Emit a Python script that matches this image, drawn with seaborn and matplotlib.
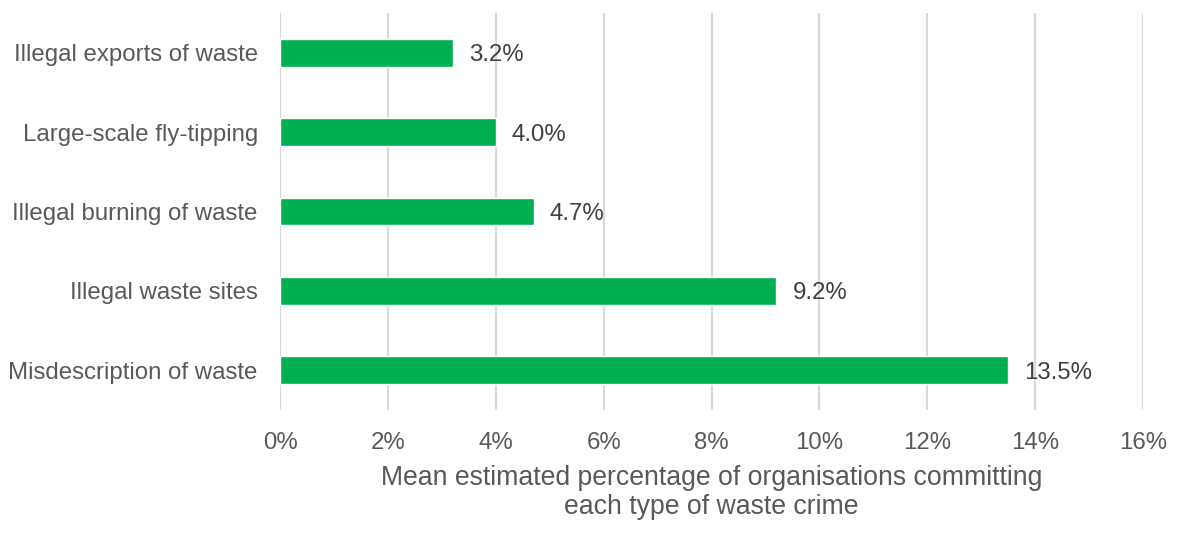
import matplotlib
matplotlib.use("Agg")
import matplotlib.pyplot as plt
import seaborn as sns
import pandas as pd
from matplotlib.ticker import FuncFormatter

# data
crimes = ['Illegal exports of waste', 'Large-scale fly-tipping', 'Illegal burning of waste',
          'Illegal waste sites', 'Misdescription of waste']
values = [3.2, 4.0, 4.7, 9.2, 13.5]
xticks = [0, 2, 4, 6, 8, 10, 12, 14, 16]

df = pd.DataFrame({'crime': crimes, 'pct': values})

sns.set_style('white')
plt.rcParams['font.family'] = ['Liberation Sans', 'DejaVu Sans']
txt = '#595959'

fig = plt.figure(figsize=(11.9, 5.46), dpi=100)
ax = fig.add_axes([280/1190, 1-410/546, (1143-280)/1190, (410-13)/546])

sns.barplot(data=df, x='pct', y='crime', color='#00B050', width=0.35,
            saturation=1, ax=ax, zorder=3)

ax.set_xlim(0, 16)
ax.set_xticks(xticks)
ax.xaxis.set_major_formatter(FuncFormatter(lambda v, p: f'{v:.0f}%'))
ax.grid(axis='x', color='#D9D9D9', linewidth=1.5, zorder=0)
ax.grid(axis='y', visible=False)
for s in ax.spines.values():
    s.set_visible(False)

ax.tick_params(axis='x', labelsize=17.3, labelcolor=txt, length=0, pad=16)
ax.tick_params(axis='y', labelsize=17.3, labelcolor=txt, length=0, pad=16)

for i, v in enumerate(values):
    ax.text(v + 0.3, i, f'{v:.1f}%', va='center_baseline', ha='left', fontsize=17.3, color='#404040')

ax.set_ylabel('')
ax.set_xlabel('Mean estimated percentage of organisations committing\neach type of waste crime',
              fontsize=19.2, color=txt, labelpad=8, linespacing=1.15)

fig.savefig('out.png', dpi=100)
